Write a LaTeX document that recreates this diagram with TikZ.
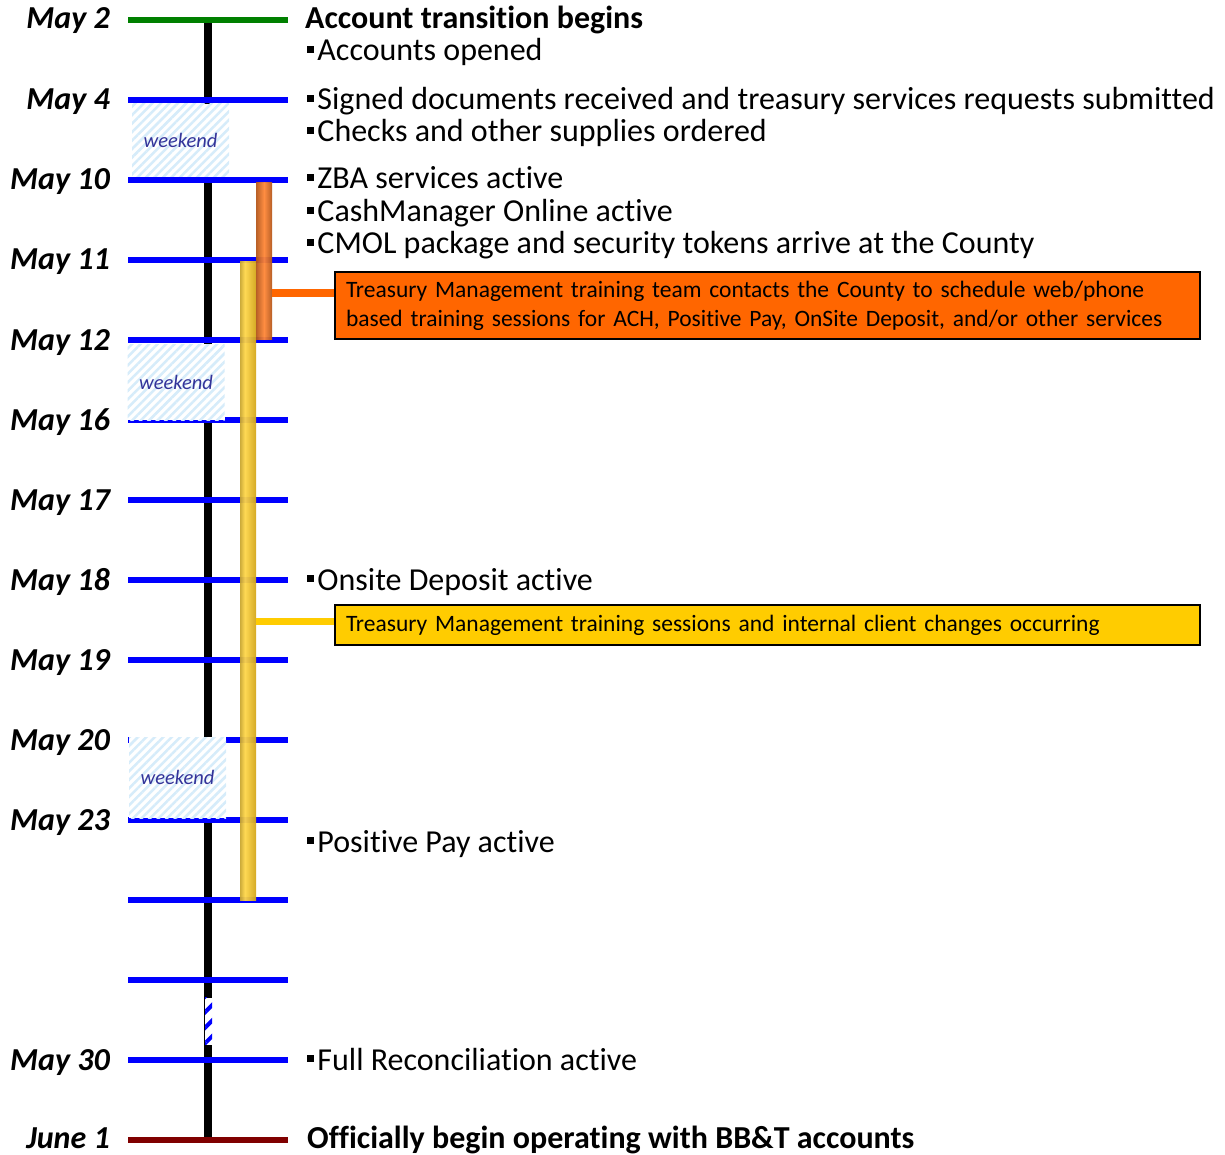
\documentclass[tikz,border=0pt]{standalone}
\usepackage{fontspec}
\setmainfont[Ligatures=NoCommon]{Carlito}
\usetikzlibrary{positioning}
\usetikzlibrary{patterns.meta}
\definecolor{mblue}{RGB}{0,0,255}
\definecolor{mgreen}{RGB}{0,128,0}
\definecolor{mred}{RGB}{128,0,0}
\definecolor{morange}{RGB}{255,102,0}
\definecolor{myellow}{RGB}{255,204,0}
\definecolor{wkblue}{RGB}{214,236,250}
\definecolor{wktext}{RGB}{51,51,153}
\definecolor{barbrown}{RGB}{105,38,0}
\definecolor{barlight}{RGB}{255,135,55}
\definecolor{golddark}{RGB}{110,85,0}
\definecolor{goldlight}{RGB}{255,215,75}
\definecolor{goldmid}{RGB}{210,165,25}
\pgfdeclarehorizontalshading{orangecyl}{100bp}{color(0bp)=(barbrown); color(50bp)=(barlight); color(100bp)=(barbrown)}
\pgfdeclarehorizontalshading{goldcyl}{100bp}{color(0bp)=(golddark); color(40bp)=(goldlight); color(75bp)=(goldmid); color(100bp)=(golddark)}
\newcommand{\evbullet}{\rule[0.24em]{0.22em}{0.22em}\hspace{0.1em}}
\tikzset{tick/.style = {line width=5.5pt, mblue}}
\tikzset{datelabel/.style = {anchor=base east, inner sep=0,
                             font=\fontsize{32}{38}\selectfont\bfseries\itshape}}
\tikzset{event/.style = {anchor=base west, inner sep=0, font=\fontsize{32}{38}\selectfont}}
\tikzset{weekendbox/.style = {fill=white, minimum width=97pt, inner sep=0,
                              postaction={pattern={Lines[angle=45, distance=6pt, line width=2.5pt]},
                                          pattern color=wkblue},
                              text=wktext, font=\fontsize{20.5}{24}\selectfont\itshape}}
\tikzset{cylbar/.style = {shade, minimum width=16pt, inner sep=0, opacity=0.95}}
\tikzset{callout/.style = {draw=black, line width=2pt, minimum width=865pt, text width=843pt,
                           inner xsep=11pt, align=left, font=\fontsize{23.5}{29}\selectfont}}
\tikzset{link/.style = {line width=8pt}}

\begin{document}
\begin{tikzpicture}[x=1pt, y=-1pt]
  \useasboundingbox (0,0) rectangle (1225,1155);

  % time line
  \coordinate (top) at (208,20);
  \coordinate (bottom) at (208,1140);
  \draw [line width=7.5pt] (top) -- (bottom);

  \draw [tick, mgreen] (128,20) -- (288,20);
  \draw [tick, mred] (128,1140) -- (288,1140);
  \node [datelabel] (d20) at (110,29) {May 2};
  \node [datelabel] (d1140) at (110,1148) {June 1};
  \foreach \y/\d in {100/May 4, 180/May 10, 260/May 11, 340/May 12, 420/May 16,
                     500/May 17, 580/May 18, 660/May 19, 740/May 20, 820/May 23, 1060/May 30}
    {
      \draw [tick] (128,\y) -- (288,\y);
      \node [datelabel] (d\y) at (110,\y+10) {\d};
    }
  \draw [tick] (128,900) -- (288,900);
  \draw [tick] (128,980) -- (288,980);

  \node [weekendbox, minimum height=73pt] (wk1) at (180.5,140.5) {weekend};
  \node [weekendbox, minimum height=76pt] (wk2) at (176,382) {weekend};
  \node [weekendbox, minimum height=81pt] (wk3) at (177.5,777.5) {weekend};

  \node [fill=white, minimum width=7pt, minimum height=47pt, inner sep=0,
         postaction={pattern={Lines[angle=45, distance=11pt, line width=4pt]}, pattern color=mblue}]
         (gap) at (208.5,1021) {};

  % bars and call-outs
  \node [cylbar, shading=goldcyl, minimum height=639pt] (goldbar) at (248,581) {};
  \node [cylbar, shading=orangecyl, minimum height=156pt] (zbabar) at (264,261) {};

  \node [callout, fill=morange, minimum height=67pt] (trainbox) at (767.5,305.5)
        {Treasury Management training team contacts the County to schedule web/phone\\
         based training sessions for ACH, Positive Pay, OnSite Deposit, and/or other services};
  \node [callout, fill=myellow, minimum height=40pt] (sessbox) at (767.5,625)
        {Treasury Management training sessions and internal client changes occurring};

  \draw [link, morange] ([yshift=-32pt]zbabar.east) -- ([yshift=-32pt]zbabar.east -| trainbox.west);
  \draw [link, myellow, line width=7pt] ([yshift=-40.5pt]goldbar.east)
        -- ([yshift=-40.5pt]goldbar.east -| sessbox.west);

  % events
  \node [event, font=\fontsize{32}{38}\selectfont\bfseries] (begin) at (305,29) {Account transition begins};
  \node [event] (opened) at (307,61) {\evbullet Accounts opened};
  \node [event] (signed) at (307,110) {\evbullet Signed documents received and treasury services requests submitted};
  \node [event] (checks) at (307,142) {\evbullet Checks and other supplies ordered};
  \node [event] (zba) at (307,189) {\evbullet ZBA services active};
  \node [event] (cmo) at (307,222) {\evbullet CashManager Online active};
  \node [event] (cmol) at (307,254) {\evbullet CMOL package and security tokens arrive at the County};
  \node [event] (onsite) at (307,590) {\evbullet Onsite Deposit active};
  \node [event] (posipay) at (307,852) {\evbullet Positive Pay active};
  \node [event] (recon) at (307,1070) {\evbullet Full Reconciliation active};
  \node [event, font=\fontsize{32}{38}\selectfont\bfseries] (official) at (307,1148)
        {Officially begin operating with BB\&T accounts};
\end{tikzpicture}
\end{document}
